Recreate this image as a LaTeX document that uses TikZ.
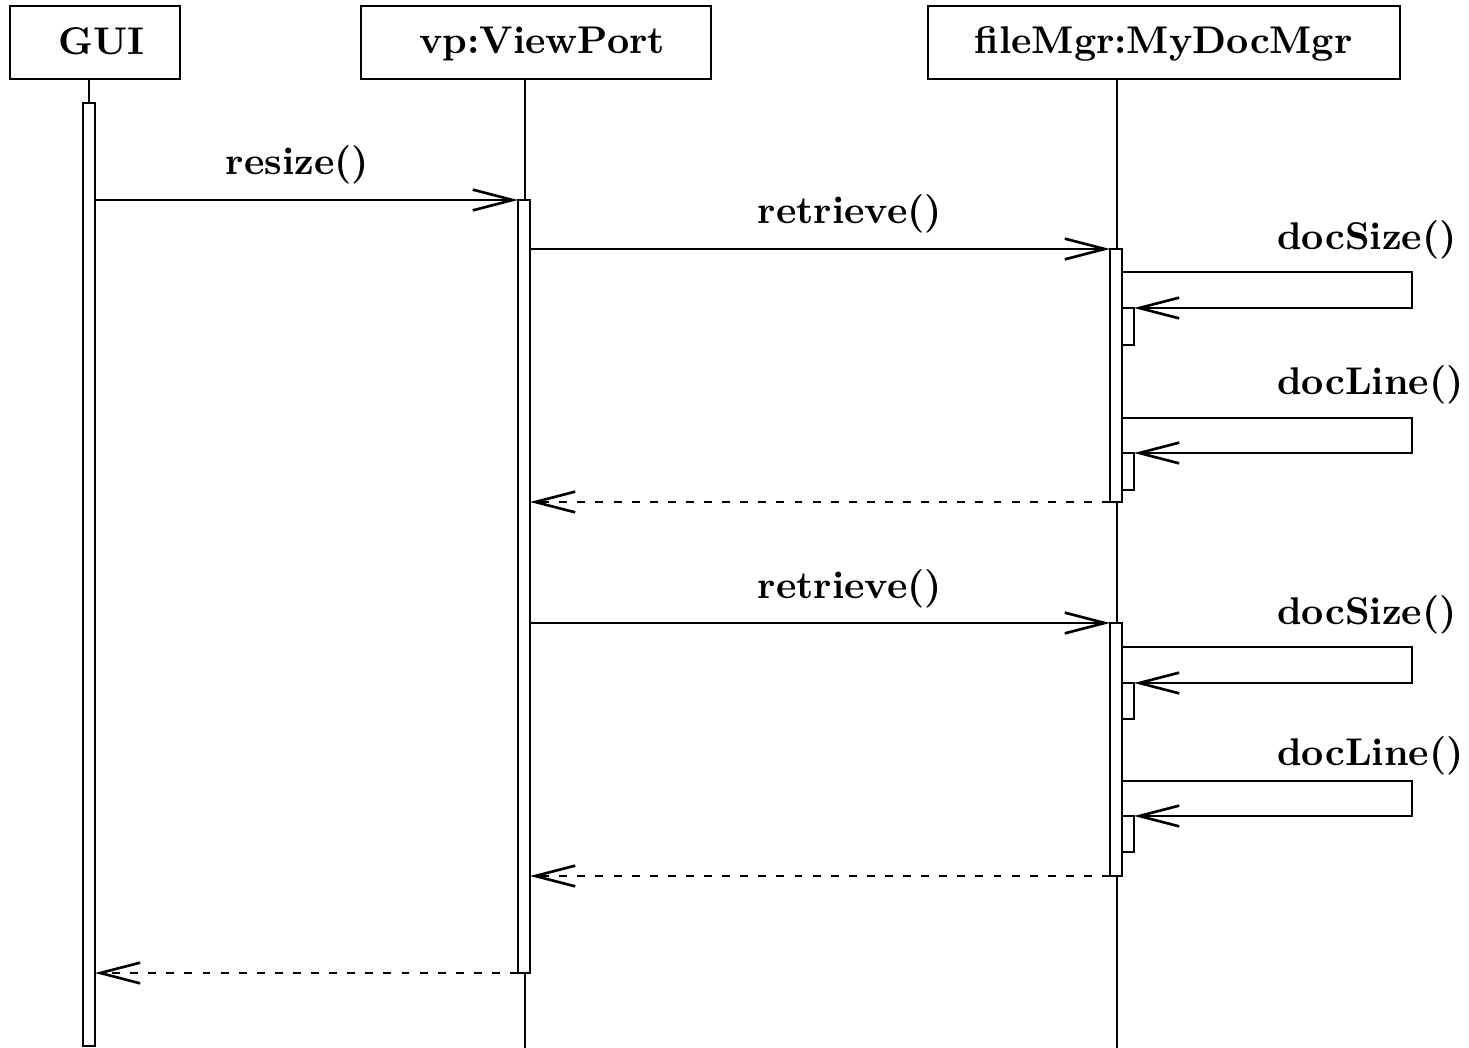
\documentclass[tikz,border=0pt]{standalone}
\usetikzlibrary{arrows.meta}
\begin{document}
\begin{tikzpicture}[x=0.2653pt,y=-0.2653pt, line width=0.7pt,
  headbox/.style={draw, rectangle, inner sep=0pt, minimum height=19.37pt},
  lbl/.style={font=\fontsize{10.25}{12}\selectfont\bfseries, inner sep=0pt, anchor=base},
  actbar/.style={draw, fill=white},
  msg/.style={-{Straight Barb[length=10.6pt,width=5.5pt]}},
  ret/.style={msg, dash pattern=on 2.1pt off 2.7pt}]
\useasboundingbox (0,0) rectangle (1469,1048);

% heads
\node[headbox, minimum width=45.1pt] (gui) at (95,42.5) {};
\node[headbox, minimum width=92.86pt] (vp) at (536,42.5) {};
\node[headbox, minimum width=125.2pt] (fm) at (1164,42.5) {};
\node[lbl] (guiL) at (101.5,55) {GUI};
\node[lbl] (vpL) at (542,54) {vp:ViewPort};
\node[lbl] (fmL) at (1163.5,54) {fileMgr:MyDocMgr};

% lifelines
\coordinate (guiT) at (89,79);  \coordinate (guiB) at (89,103);
\coordinate (vpT) at (525,79);  \coordinate (vpB) at (525,1048);
\coordinate (fmT) at (1117,79); \coordinate (fmB) at (1117,1048);
\draw (guiT) -- (guiB);
\draw (vpT) -- (vpB);
\draw (fmT) -- (fmB);

% activation bars
\draw[actbar] (83,103) rectangle (95,1046);
\draw[actbar] (518,200) rectangle (530,973);
\draw[actbar] (1110,249) rectangle (1122,502);
\draw[actbar] (1110,623) rectangle (1122,876);
\draw[actbar] (1122,308) rectangle (1134,345);
\draw[actbar] (1122,453) rectangle (1134,490);
\draw[actbar] (1122,683) rectangle (1134,719);
\draw[actbar] (1122,816) rectangle (1134,852);

% message end points
\coordinate (r1a) at (95,200);   \coordinate (r1b) at (518,200);
\coordinate (t1a) at (530,249);  \coordinate (t1b) at (1110,249);
\coordinate (s1a) at (1122,272); \coordinate (s1c) at (1412,272); \coordinate (s1d) at (1412,308); \coordinate (s1b) at (1134,308);
\coordinate (l1a) at (1122,418); \coordinate (l1c) at (1412,418); \coordinate (l1d) at (1412,453); \coordinate (l1b) at (1134,453);
\coordinate (b1a) at (1110,502); \coordinate (b1b) at (530,502);
\coordinate (t2a) at (530,623);  \coordinate (t2b) at (1110,623);
\coordinate (s2a) at (1122,647); \coordinate (s2c) at (1412,647); \coordinate (s2d) at (1412,683); \coordinate (s2b) at (1134,683);
\coordinate (l2a) at (1122,781); \coordinate (l2c) at (1412,781); \coordinate (l2d) at (1412,816); \coordinate (l2b) at (1134,816);
\coordinate (b2a) at (1110,876); \coordinate (b2b) at (530,876);
\coordinate (b3a) at (518,973);  \coordinate (b3b) at (95,973);

% messages
\draw[msg] (r1a) -- (r1b);
\draw[msg] (t1a) -- (t1b);
\draw[msg] (s1a) -- (s1c) -- (s1d) -- (s1b);
\draw[msg] (l1a) -- (l1c) -- (l1d) -- (l1b);
\draw[ret] (b1a) -- (b1b);
\draw[msg] (t2a) -- (t2b);
\draw[msg] (s2a) -- (s2c) -- (s2d) -- (s2b);
\draw[msg] (l2a) -- (l2c) -- (l2d) -- (l2b);
\draw[ret] (b2a) -- (b2b);
\draw[ret] (b3a) -- (b3b);

% labels
\node[lbl] (m1) at (297.5,175) {resize()};
\node[lbl] (m2) at (850,223) {retrieve()};
\node[lbl] (m3) at (1367,249) {docSize()};
\node[lbl] (m4) at (1370.5,394) {docLine()};
\node[lbl] (m5) at (850,598) {retrieve()};
\node[lbl] (m6) at (1367,624) {docSize()};
\node[lbl] (m7) at (1370.5,765) {docLine()};
\end{tikzpicture}
\end{document}
